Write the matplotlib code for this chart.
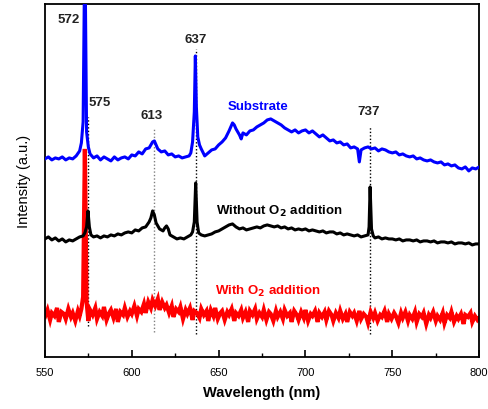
import matplotlib
matplotlib.use("Agg")
import matplotlib.pyplot as plt
from matplotlib.ticker import MultipleLocator

plt.rcParams['font.family'] = ['Liberation Sans', 'DejaVu Sans']

# wavelength (nm) and intensity (a.u.) for each spectrum
wl_sub = [550, 552, 554, 556, 558, 560, 562, 564, 566, 568, 570, 571, 572, 573, 574, 575, 576,
          578, 580, 582, 584, 586, 588, 590, 592, 594, 596, 598, 600, 602, 604, 606, 608, 610, 611, 612,
          613, 614, 615, 617, 619, 621, 623, 625, 627, 629, 631, 633, 634, 635, 636, 636.6, 637.2,
          638, 639, 640, 642, 644, 646, 648, 650, 652, 654, 656, 658, 659, 660, 662, 663, 664, 666, 668,
          670, 672, 674, 676, 678, 680, 682, 684, 686, 688, 690, 692, 694, 696, 698, 700, 702, 704, 706,
          708, 710, 712, 714, 716, 718, 720, 722, 724, 726, 728, 730, 731, 732, 734, 736, 738, 740, 742,
          744, 746, 748, 750, 752, 754, 756, 758, 760, 762, 764, 766, 768, 770, 772, 774, 776, 778, 780,
          782, 784, 786, 788, 790, 792, 794, 796, 798, 800]
int_sub = [198, 200, 197, 199, 198, 200, 197, 199, 198, 201, 206, 214, 235, 420, 225, 210, 203,
           199, 201, 197, 200, 198, 196, 200, 197, 199, 200, 198, 202, 201, 205, 203, 208, 209, 212, 215,
           216, 212, 208, 205, 206, 202, 203, 200, 201, 199, 200, 201, 204, 215, 245, 301, 250,
           220, 212, 208, 201, 204, 207, 208, 212, 215, 219, 226, 234, 232, 228, 222, 218, 224, 222, 226,
           227, 230, 232, 234, 237, 238, 236, 234, 232, 229, 227, 225, 227, 224, 226, 227, 224, 226, 223,
           220, 222, 219, 216, 217, 214, 215, 212, 213, 209, 210, 208, 195, 207, 209, 210, 208, 209, 206,
           208, 207, 205, 204, 205, 202, 203, 201, 200, 201, 198, 199, 197, 196, 197, 195, 194, 195, 192,
           193, 191, 192, 189, 188, 190, 186, 189, 188, 190]

wl_no_o2 = [550, 552, 554, 556, 558, 560, 562, 564, 566, 568, 570, 572, 573, 574, 574.8, 575.6, 576.5, 578,
            580, 582, 584, 586, 588, 590, 592, 594, 596, 598, 600, 602, 604, 606, 608, 610, 611, 612, 613,
            614, 616, 618, 619, 620, 621, 622, 624, 626, 628, 630, 632, 634, 635, 636, 636.8, 637.6, 638.5,
            640, 642, 644, 646, 648, 650, 652, 654, 656, 658, 660, 662, 664, 666, 668, 670, 672, 674, 676,
            678, 680, 682, 684, 686, 688, 690, 692, 694, 696, 698, 700, 702, 704, 706, 708, 710, 712, 714,
            716, 718, 720, 722, 724, 726, 728, 730, 732, 734, 736, 736.6, 737.2, 738, 739, 740, 742, 744,
            746, 748, 750, 752, 754, 756, 758, 760, 762, 764, 766, 768, 770, 772, 774, 776, 778, 780, 782,
            784, 786, 788, 790, 792, 794, 796, 798, 800]
int_no_o2 = [118, 120, 117, 119, 116, 118, 115, 117, 116, 118, 120, 121, 124, 130, 146, 130, 122, 120,
             121, 119, 121, 120, 122, 121, 123, 122, 124, 125, 124, 127, 126, 129, 130, 135, 139, 146, 142,
             134, 128, 126, 129, 131, 128, 122, 120, 118, 119, 118, 120, 122, 125, 135, 174, 135, 124,
             122, 121, 122, 123, 125, 126, 128, 130, 132, 133, 130, 128, 129, 127, 128, 129, 130, 129, 131,
             132, 131, 130, 131, 129, 130, 128, 129, 127, 128, 127, 128, 126, 127, 126, 125, 126, 124, 125,
             125, 123, 124, 122, 123, 122, 121, 122, 120, 121, 122, 130, 170, 128, 121, 119, 120, 118,
             119, 118, 118, 117, 118, 116, 117, 117, 116, 117, 115, 116, 116, 115, 116, 114, 115, 115, 114,
             115, 113, 114, 114, 113, 114, 112, 113, 113]

wl_o2 = [550, 551.5, 553, 554, 555.5, 557, 558, 559.5, 561, 562, 563.5, 565, 566, 567.5, 569, 570, 571,
         572, 573, 574, 575, 576, 577.5, 579, 580, 581.5, 583, 584, 585.5, 587, 588, 589.5, 591, 592, 593.5,
         595, 596, 597.5, 599, 600, 601.5, 603, 604, 605.5, 607, 608, 609.5, 611, 612, 613.5, 615, 616,
         617.5, 619, 620, 621.5, 623, 624, 625.5, 627, 628, 629.5, 631, 632, 633.5, 635, 636, 637.5, 639,
         640, 641.5, 643, 644, 645.5, 647, 648, 649.5, 651, 652, 653.5, 655, 656, 657.5, 659, 660, 661.5,
         663, 664, 665.5, 667, 668, 669.5, 671, 672, 673.5, 675, 676, 677.5, 679, 680, 681.5, 683, 684,
         685.5, 687, 688, 689.5, 691, 692, 693.5, 695, 696, 697.5, 699, 700, 701.5, 703, 704, 705.5, 707,
         708, 709.5, 711, 712, 713.5, 715, 716, 717.5, 719, 720, 721.5, 723, 724, 725.5, 727, 728, 729.5,
         731, 732, 733.5, 735, 736, 737.5, 739, 740, 741.5, 743, 744, 745.5, 747, 748, 749.5, 751, 752,
         753.5, 755, 756, 757.5, 759, 760, 761.5, 763, 764, 765.5, 767, 768, 769.5, 771, 772, 773.5, 775,
         776, 777.5, 779, 780, 781.5, 783, 784, 785.5, 787, 788, 789.5, 791, 792, 793.5, 795, 796, 797.5,
         799, 800]
int_o2 = [40, 47, 37, 44, 41, 49, 35, 45, 43, 38, 48, 40, 44, 36, 46, 41, 48,
          60, 208, 55, 36, 47, 42, 49, 38, 45, 41, 50, 37, 44, 47, 39, 48, 35, 45,
          42, 49, 40, 46, 43, 51, 41, 48, 45, 53, 44, 55, 49, 57, 51, 58, 47,
          55, 49, 52, 44, 51, 40, 48, 45, 50, 38, 47, 43, 49, 37, 46, 44, 39,
          48, 42, 46, 36, 47, 41, 49, 38, 44, 46, 37, 45, 42, 48, 36, 44, 41,
          47, 39, 45, 35, 46, 42, 48, 38, 44, 40, 47, 37, 45, 43, 36, 46, 40,
          45, 38, 47, 41, 44, 35, 46, 42, 37, 45, 39, 47, 36, 43, 41, 46, 35,
          44, 40, 45, 37, 46, 42, 36, 44, 39, 46, 38, 43, 35, 45, 41, 44, 36,
          46, 38, 43, 40, 34, 45, 39, 44, 36, 42, 40, 46, 35, 43, 38, 44, 41,
          34, 44, 39, 45, 36, 42, 38, 45, 35, 43, 40, 44, 33, 42, 39, 45, 36,
          41, 37, 44, 34, 42, 39, 45, 35, 41, 38, 43, 33, 42, 40, 44, 35, 41,
          37, 39]

# marked peak positions with the span of their guide lines
peak_wl = [575, 613, 637, 737]
peak_lo = [31, 25, 23, 23]
peak_hi = [240, 228, 308, 231]
peak_col = ['black', 'gray', 'black', 'black']

# peak labels: text, x, y
label_txt = ['572', '575', '613', '637', '737']
label_x = [563.5, 581.5, 611.5, 637, 736.5]
label_y = [338, 255, 242, 318, 246]

fig = plt.figure(figsize=(4.88, 4.10), dpi=100)
ax = fig.add_axes([0.092, 0.127, 0.89, 0.861])

for w, lo, hi, c in zip(peak_wl, peak_lo, peak_hi, peak_col):
    ax.vlines(w, lo, hi, colors=c, linestyles=(0, (1, 1.5)), linewidth=1.0, zorder=1)

ax.plot(wl_o2, int_o2, color='#ff0000', linewidth=3.0, solid_joinstyle='miter', zorder=2)
ax.plot(wl_no_o2, int_no_o2, color='black', linewidth=2.2, zorder=3)
ax.plot(wl_sub, int_sub, color='#0000ff', linewidth=2.2, zorder=4)

for t, x, y in zip(label_txt, label_x, label_y):
    ax.text(x, y, t, ha='center', va='center', fontsize=9.5, fontweight='bold', color='#222222')

ax.text(672.5, 251, 'Substrate', ha='center', va='center', fontsize=9.5,
        fontweight='bold', color='#0000ff')
ax.text(685, 146, 'Without O$_\\mathbf{2}$ addition', ha='center', va='center', fontsize=9.5,
        fontweight='bold', color='black')
ax.text(678.5, 66, 'With O$_\\mathbf{2}$ addition', ha='center', va='center', fontsize=9.5,
        fontweight='bold', color='#ff0000')

ax.set_xlim(550, 800)
ax.set_ylim(0, 353)
ax.xaxis.set_major_locator(MultipleLocator(50))
ax.xaxis.set_minor_locator(MultipleLocator(25))
ax.tick_params(axis='x', which='major', direction='in', length=5, width=1.2, labelsize=8, pad=7)
ax.tick_params(axis='x', which='minor', direction='in', length=3, width=1.0)
ax.set_yticks([])
for s in ax.spines.values():
    s.set_linewidth(1.3)

ax.set_xlabel('Wavelength (nm)', fontsize=10.5, fontweight='bold', labelpad=6)
ax.set_ylabel('Intensity (a.u.)', fontsize=10.5, labelpad=10)

fig.savefig('out.png', dpi=100)
